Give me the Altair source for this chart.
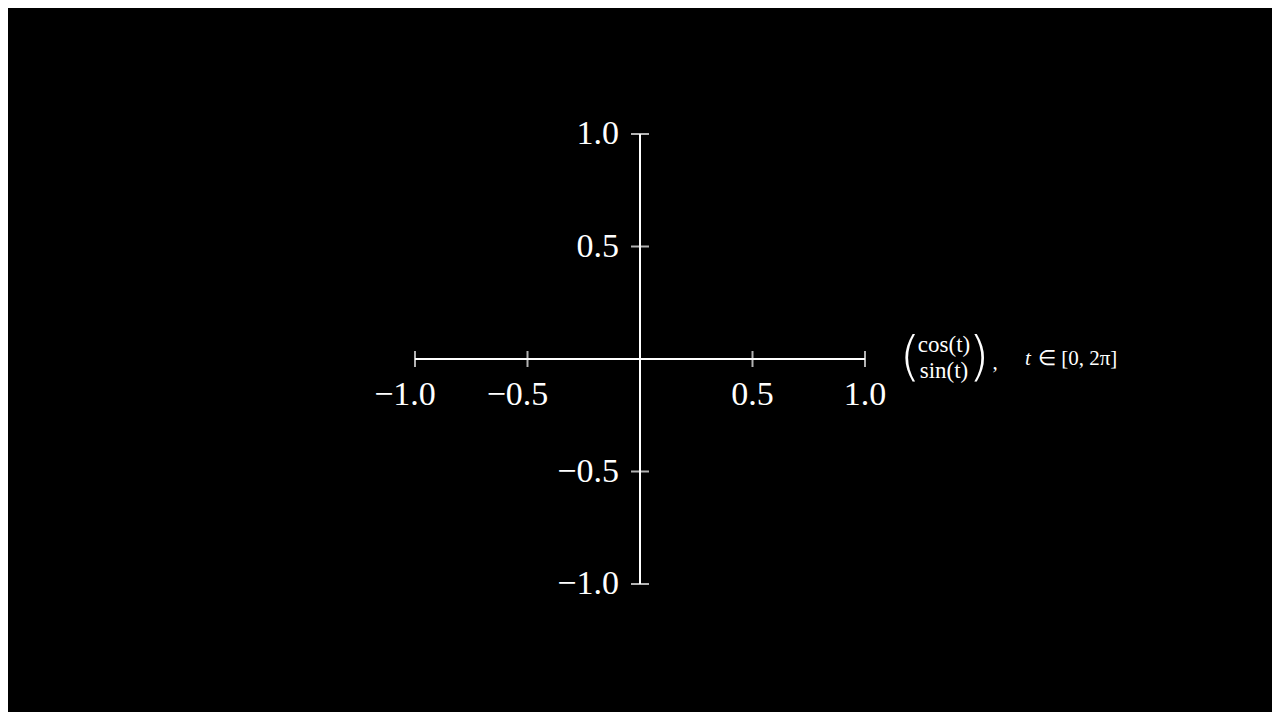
import altair as alt
import pandas as pd

# Data
x_domain = [-1.0, 1.0]
y_domain = [-1.0, 1.0]
x_ticks = [-1.0, -0.5, 0.5, 1.0]
x_tick_labels = ["\u22121.0", "\u22120.5", "0.5", "1.0"]
y_ticks = [1.0, 0.5, -0.5, -1.0]
y_tick_labels = ["1.0", "0.5", "\u22120.5", "\u22121.0"]
FONT = "Liberation Serif"
WHITE = "#ffffff"

xs = alt.Scale(domain=x_domain, range=[407, 857], nice=False, zero=False)
ys = alt.Scale(domain=y_domain, range=[576, 126], nice=False, zero=False)

axis_df = pd.DataFrame({
    "x": [x_domain[0], 0.0], "x2": [x_domain[1], 0.0],
    "y": [0.0, y_domain[0]], "y2": [0.0, y_domain[1]],
})
axes = alt.Chart(axis_df).mark_rule(color=WHITE, strokeWidth=2).encode(
    x=alt.X("x:Q", scale=xs, axis=None), x2="x2:Q",
    y=alt.Y("y:Q", scale=ys, axis=None), y2="y2:Q",
)

xt_df = pd.DataFrame({"x": x_ticks, "y": [0.0] * len(x_ticks), "lab": x_tick_labels,
                      "neg": [v < 0 for v in x_ticks]})
yt_df = pd.DataFrame({"x": [0.0] * len(y_ticks), "y": y_ticks, "lab": y_tick_labels})

xtick = alt.Chart(xt_df).mark_tick(orient="vertical", size=16, thickness=2, color=WHITE).encode(
    x=alt.X("x:Q", scale=xs, axis=None), y=alt.Y("y:Q", scale=ys, axis=None))
ytick = alt.Chart(yt_df).mark_tick(orient="horizontal", size=18, thickness=2, color=WHITE).encode(
    x=alt.X("x:Q", scale=xs, axis=None), y=alt.Y("y:Q", scale=ys, axis=None))

xlab_pos = alt.Chart(xt_df).transform_filter("!datum.neg").mark_text(
    font=FONT, fontSize=34, color=WHITE, align="center", baseline="middle", dy=36
).encode(x=alt.X("x:Q", scale=xs, axis=None), y=alt.Y("y:Q", scale=ys, axis=None), text="lab:N")
xlab_neg = alt.Chart(xt_df).transform_filter("datum.neg").mark_text(
    font=FONT, fontSize=34, color=WHITE, align="center", baseline="middle", dy=36, dx=-10
).encode(x=alt.X("x:Q", scale=xs, axis=None), y=alt.Y("y:Q", scale=ys, axis=None), text="lab:N")
ylab = alt.Chart(yt_df).mark_text(
    font=FONT, fontSize=34, color=WHITE, align="right", baseline="middle", dx=-21
).encode(x=alt.X("x:Q", scale=xs, axis=None), y=alt.Y("y:Q", scale=ys, axis=None), text="lab:N")

# Curve label anchored at the end of the x axis
label_parts = ["(", "cos(t)", "sin(t)", ")", ",", "t", "\u2208 [0, 2\u03c0]"]
anchor_df = pd.DataFrame({"x": [x_domain[1]], "y": [0.0]})

def lbl(text, dx, dy, size=23, align="center", style="normal", font=FONT, weight="normal"):
    return alt.Chart(anchor_df).mark_text(
        text=text, font=font, fontSize=size, color=WHITE, align=align,
        baseline="middle", dx=dx, dy=dy, fontStyle=style, fontWeight=weight
    ).encode(x=alt.X("x:Q", scale=xs, axis=None), y=alt.Y("y:Q", scale=ys, axis=None))

label = [
    lbl(label_parts[0], 45, 0, size=54, font="DejaVu Sans", weight=200),
    lbl(label_parts[1], 79, -14),
    lbl(label_parts[2], 79, 12),
    lbl(label_parts[3], 114, 0, size=54, font="DejaVu Sans", weight=200),
    lbl(label_parts[4], 130, 4, size=21),
    lbl(label_parts[5], 160, 0, size=21, align="left", style="italic"),
    lbl(label_parts[6], 173, 0, size=21, align="left"),
]

chart = alt.layer(axes, xtick, ytick, xlab_pos, xlab_neg, ylab, *label).properties(
    width=1264, height=704, background="#000000", padding=0,
    autosize=alt.AutoSizeParams(type="none"),
).configure_view(strokeWidth=0)

chart.save("out.html", embed_options={"renderer": "svg", "actions": False})
